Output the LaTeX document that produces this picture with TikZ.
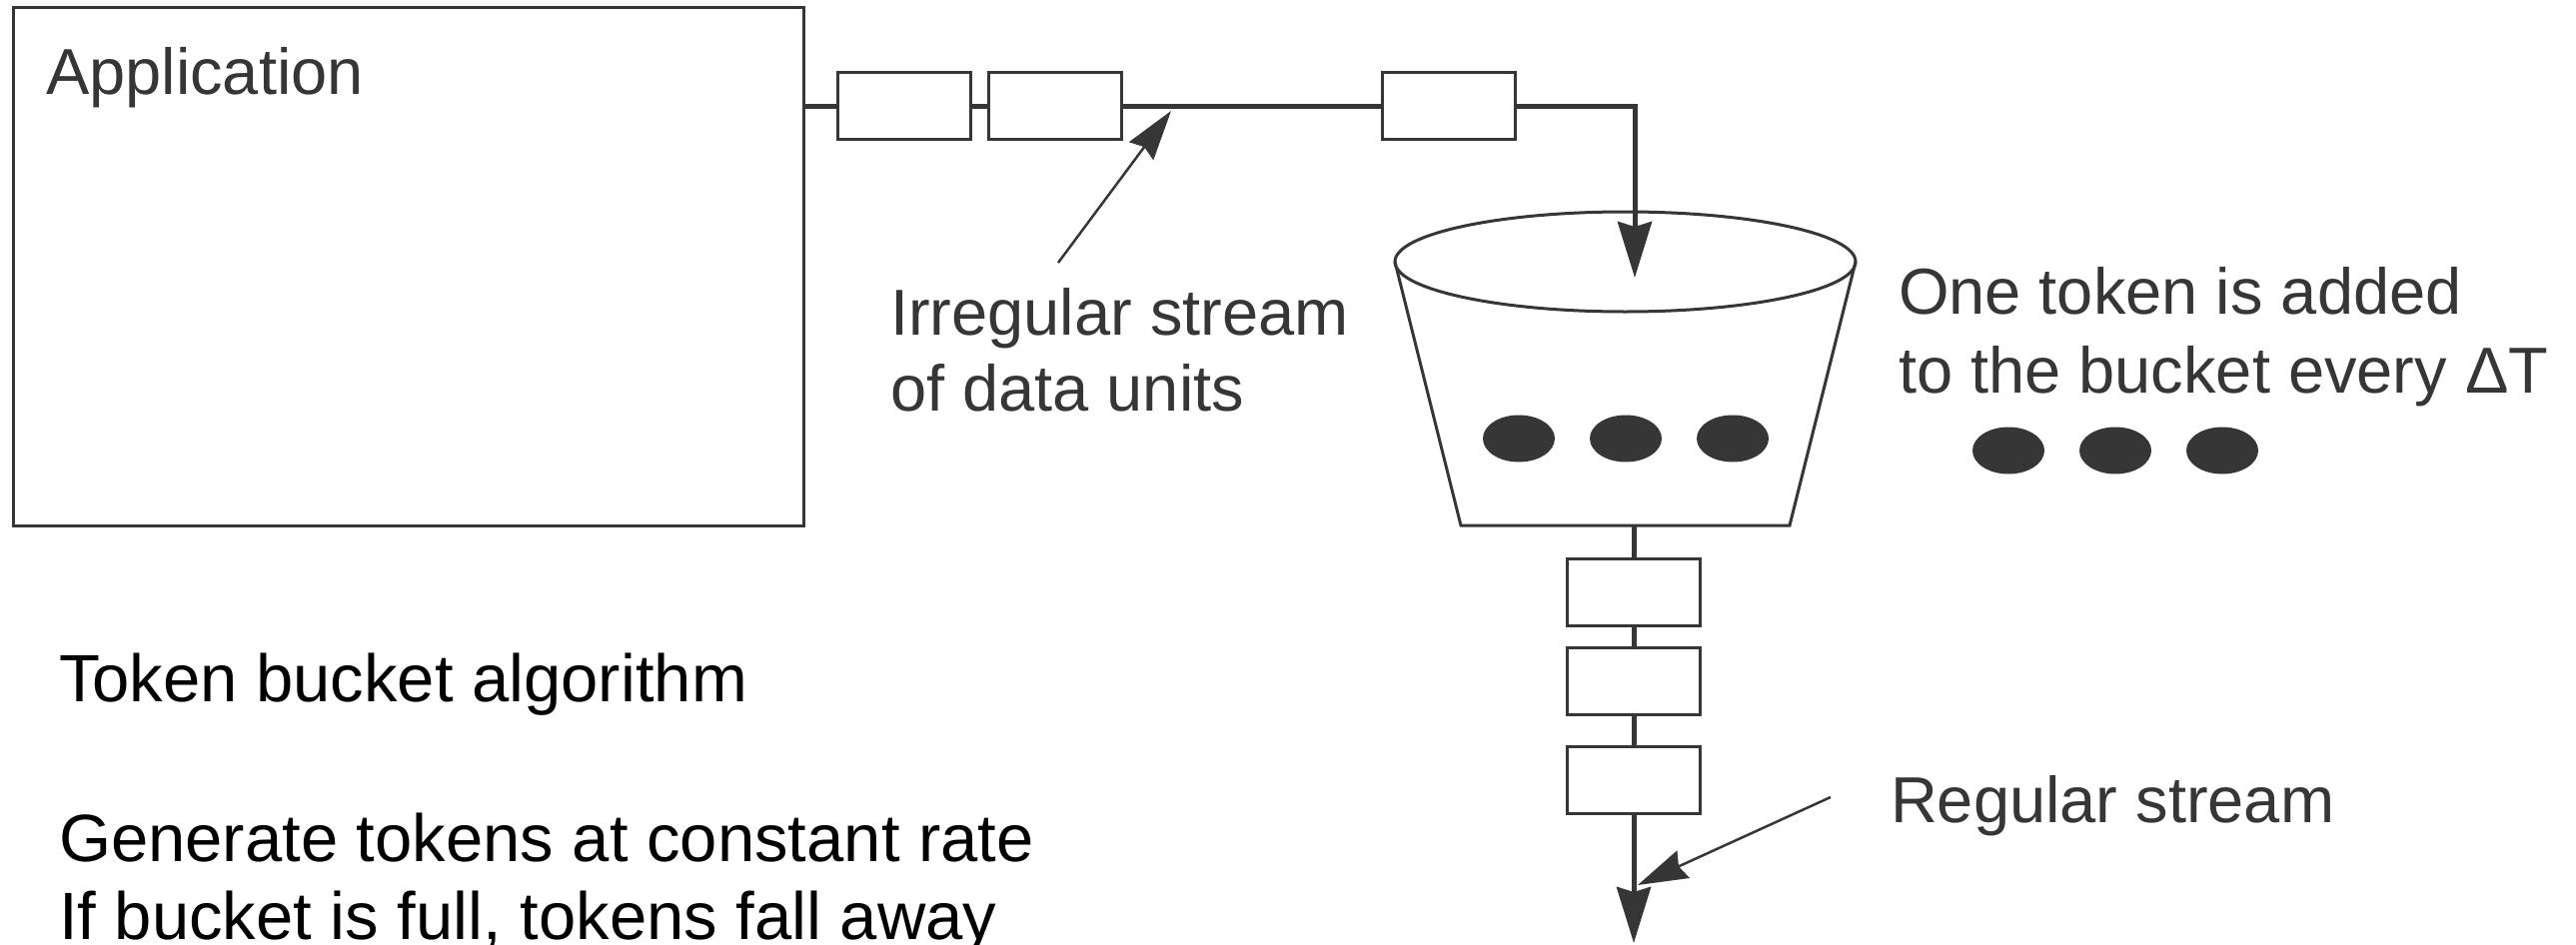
\documentclass[tikz,border=0pt]{standalone}
\usepackage{fontspec}
\setmainfont{Liberation Sans}
\usetikzlibrary{arrows.meta}
\definecolor{ink}{HTML}{363636}
\begin{document}
\begin{tikzpicture}[x=1pt,y=-1pt,
  every node/.style={inner sep=0pt, outer sep=0pt},
  frame/.style={draw=ink, line width=3pt},
  pkt/.style={draw=ink, line width=3pt, fill=white,
    minimum width=133pt, minimum height=67pt},
  wire/.style={draw=ink, line width=5pt},
  bighead/.style={-{Stealth[length=56pt,width=34pt,inset=5pt]}},
  ptr/.style={draw=ink, line width=2.5pt,
    -{Stealth[length=50pt,width=30pt,inset=5pt]}},
  lbl/.style={text=ink, font=\fontsize{65}{80}\selectfont, anchor=base west},
  note/.style={text=black, font=\fontsize{67}{80}\selectfont, anchor=base west},
  token/.style={fill=ink}
]
\useasboundingbox[fill=white] (0,0) rectangle (2578,945);

% application
\node[frame, minimum width=791pt, minimum height=519pt, anchor=north west]
  (app) at (13,7) {};
\node[lbl] (applbl) at (46,94) {Application};

% irregular stream of packets
\node[pkt] (p1) at (904.5,106) {};
\node[pkt] (p2) at (1055.5,106) {};
\node[pkt] (p3) at (1450,106) {};
\coordinate (drop) at (1636,278);

% bucket
\coordinate (rimL) at (1396,262);
\coordinate (rimR) at (1857,262);
\coordinate (baseL) at (1462,526);
\coordinate (baseR) at (1791,526);
\coordinate (spout) at (1635,526);
\draw[frame] (1626.5,262) ellipse [x radius=230.5, y radius=50];
\draw[frame] (rimL) -- (baseL) -- (baseR) -- (rimR);

\draw[wire] (app.east |- p1.west) -- (p1.west)
            (p1.east) -- (p2.west)
            (p2.east) -- (p3.west);
\draw[wire, bighead] (p3.east) -| (drop);

% tokens in the bucket and arriving tokens
\foreach \x in {1520,1627,1734}
  \fill[token] (\x,439) ellipse [x radius=36, y radius=23.5];
\foreach \x in {2010,2117,2224}
  \fill[token] (\x,451) ellipse [x radius=36, y radius=23.5];

% regular stream of packets
\node[pkt] (q1) at (1635,593) {};
\node[pkt] (q2) at (1635,682) {};
\node[pkt] (q3) at (1635,781) {};
\coordinate (out) at (1635,944);
\draw[wire] (spout) -- (q1.north)
            (q1.south) -- (q2.north)
            (q2.south) -- (q3.north);
\draw[wire, bighead] (q3.south) -- (out);

% labels and their pointers
\node[lbl] (irr1) at (891,335) {Irregular stream};
\node[lbl] (irr2) at (891,411) {of data units};
\coordinate (irrtail) at (1059,263);
\coordinate (irrtip) at (1172,111);
\draw[ptr] (irrtail) -- (irrtip);

\node[lbl] (tok1) at (1900,314) {One token is added};
\node[lbl] (tok2) at (1900,393) {to the bucket every ΔT};

\node[lbl] (reg) at (1892,823) {Regular stream};
\coordinate (regtail) at (1832,798);
\coordinate (regtip) at (1639,886);
\draw[ptr] (regtail) -- (regtip);

% notes
\node[note] (n1) at (59,702) {Token bucket algorithm};
\node[note] (n2) at (59,862) {Generate tokens at constant rate};
\node[note] (n3) at (59,940) {If bucket is full, tokens fall away};
\end{tikzpicture}
\end{document}
